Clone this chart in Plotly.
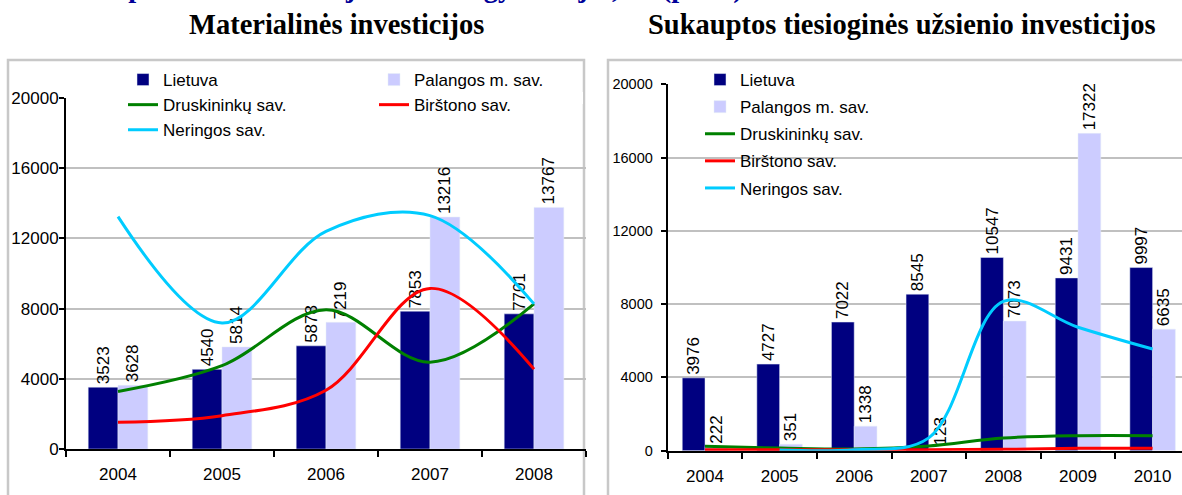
import plotly.graph_objects as go

W, H = 1182, 495

# ---------------- data ----------------
years_left = ["2004", "2005", "2006", "2007", "2008"]
lietuva_left = [3523, 4540, 5878, 7853, 7701]
palanga_left = [3628, 5814, 7219, 13216, 13767]
druskininkai_left = [3280, 4750, 7930, 4950, 8270]
birstonas_left = [1520, 1900, 3350, 9150, 4550]
neringa_left = [13240, 7180, 12400, 13300, 8270]

years_right = ["2004", "2005", "2006", "2007", "2008", "2009", "2010"]
lietuva_right = [3976, 4727, 7022, 8545, 10547, 9431, 9997]
palanga_right = [222, 351, 1338, 123, 7073, 17322, 6635]
druskininkai_right = [237, 146, 91, 256, 694, 822, 822]
birstonas_right = [55, 55, 50, 55, 73, 128, 128]
neringa_right = [None, 37, 55, 700, 8150, 6740, 5550]

y_ticks = [0, 4000, 8000, 12000, 16000, 20000]
y_tick_labels = ["0", "4000", "8000", "12000", "16000", "20000"]

names = ["Lietuva", "Palangos m. sav.", "Druskininkų sav.", "Birštono sav.", "Neringos sav."]
title_left = "Materialinės investicijos"
title_right = "Sukauptos tiesioginės užsienio investicijos"
header = "Kompleksinės investicijos vienam gyventojui, Lt (proc.)"

# ---------------- style ----------------
NAVY, LAV, GREEN, RED, CYAN = "#000080", "#CCCCFF", "#008000", "#FF0000", "#00CCFF"
SANS = "Liberation Sans, Arial, sans-serif"
SERIF = "Liberation Serif, Times New Roman, serif"
FS = 17

fig = go.Figure()


def add_panel(years, lt, pal, dru, bir, ner, xa, ya, bw, legs, grp):
    common_txt = dict(textposition="outside", textangle=-90, cliponaxis=False,
                      constraintext="none",
                      textfont=dict(family=SANS, size=FS, color="black"))
    fig.add_trace(go.Bar(x=years, y=lt, name=names[0], marker_color=NAVY, width=bw, offset=-bw,
                         text=[str(v) for v in lt], xaxis=xa, yaxis=ya, legend=legs[0],
                         legendgroup=grp + "0", **common_txt))
    fig.add_trace(go.Bar(x=years, y=pal, name=names[1], marker_color=LAV, width=bw, offset=0,
                         text=[str(v) for v in pal], xaxis=xa, yaxis=ya, legend=legs[1],
                         legendgroup=grp + "1", **common_txt))
    for i, (vals, nm, col) in enumerate([(dru, names[2], GREEN), (bir, names[3], RED),
                                         (ner, names[4], CYAN)]):
        fig.add_trace(go.Scatter(x=years, y=vals, name=nm, mode="lines",
                                 line=dict(color=col, width=3, shape="spline", smoothing=1.0),
                                 connectgaps=False, xaxis=xa, yaxis=ya, legend=legs[2 + i],
                                 legendgroup=grp + str(2 + i)))


add_panel(years_left, lietuva_left, palanga_left, druskininkai_left, birstonas_left, neringa_left,
          "x", "y", 0.2865, ["legend", "legend2", "legend", "legend2", "legend"], "L")
add_panel(years_right, lietuva_right, palanga_right, druskininkai_right, birstonas_right, neringa_right,
          "x2", "y2", 0.305, ["legend3"] * 5, "R")

xcommon = dict(type="category", showline=True, linecolor="black", linewidth=2,
               ticks="outside", ticklen=6, tickwidth=1.5, tickcolor="black",
               tickson="boundaries", showgrid=False, zeroline=False, ticklabelstandoff=9,
               automargin=False,
               tickfont=dict(family=SANS, size=FS, color="black"), fixedrange=True)
ycommon = dict(range=[0, 20000], tickvals=y_ticks, ticktext=y_tick_labels,
               showline=True, linecolor="black", linewidth=2,
               ticks="outside", ticklen=5, tickwidth=1.5, tickcolor="black",
               showgrid=True, gridcolor="#c0c0c0", gridwidth=1.5, zeroline=False,
               automargin=False, fixedrange=True)

right_end = 6.5 - (667.7 + 7 * 74.6 - W) / 74.6

lg_font = dict(family=SANS, size=FS, color="black")
legend_common = dict(bgcolor="rgba(0,0,0,0)", borderwidth=0, font=lg_font, xanchor="left",
                     yanchor="top", orientation="v")

fig.update_layout(
    width=W, height=H,
    margin=dict(l=0, r=0, t=0, b=0, autoexpand=False),
    paper_bgcolor="white", plot_bgcolor="white",
    barmode="overlay",
    xaxis=dict(domain=[66 / W, 586 / W], range=[-0.5, 4.5], anchor="y", **xcommon),
    yaxis=dict(domain=[(H - 449) / H, (H - 98) / H], anchor="x", ticklabelstandoff=-3,
               tickfont=dict(family=SANS, size=FS, color="black"), **ycommon),
    xaxis2=dict(domain=[667.7 / W, 1.0], range=[-0.5, right_end], anchor="y2", **xcommon),
    yaxis2=dict(domain=[(H - 450.7) / H, (H - 84.3) / H], anchor="x2", ticklabelstandoff=5,
                tickfont=dict(family=SANS, size=14.5, color="black"), **ycommon),
    legend=dict(x=123 / W, y=(H - 62) / H, traceorder="normal", **legend_common),
    legend2=dict(x=374 / W, y=(H - 62) / H, traceorder="normal", **legend_common),
    legend3=dict(x=700 / W, y=(H - 62) / H, traceorder="grouped", tracegroupgap=2,
                 **legend_common),
    showlegend=True,
)

# panel frames and legend backgrounds (like the Excel legend boxes)
frame = dict(color="#c8c8c8", width=2.5)
fig.add_shape(type="rect", xref="paper", yref="paper", x0=8 / W, x1=584 / W, y0=-0.05,
              y1=(H - 60) / H, line=frame, fillcolor="rgba(0,0,0,0)", layer="below")
fig.add_shape(type="rect", xref="paper", yref="paper", x0=608 / W, x1=1.05, y0=-0.05,
              y1=(H - 60) / H, line=frame, fillcolor="rgba(0,0,0,0)", layer="below")
fig.add_shape(type="rect", xref="paper", yref="paper", x0=77 / W, x1=583 / W, y0=(H - 104) / H,
              y1=(H - 92) / H, line=dict(width=0), fillcolor="white", layer="between")
fig.add_shape(type="rect", xref="paper", yref="paper", x0=681 / W, x1=880 / W, y0=(H - 205) / H,
              y1=(H - 66) / H, line=dict(width=0), fillcolor="white", layer="between")

fig.add_annotation(text=title_left, xref="paper", yref="paper", x=336 / W, y=(H - 25) / H,
                   xanchor="center", yanchor="middle", showarrow=False,
                   font=dict(family=SERIF, size=28.5, color="black", weight="bold"))
fig.add_annotation(text=title_right, xref="paper", yref="paper", x=902 / W, y=(H - 25) / H,
                   xanchor="center", yanchor="middle", showarrow=False,
                   font=dict(family=SERIF, size=28.5, color="black", weight="bold"))
fig.add_annotation(text=header, xref="paper", yref="paper", x=66 / W, y=(H - 6.5) / H,
                   xanchor="left", yanchor="bottom", showarrow=False,
                   font=dict(family=SERIF, size=28.5, color="#000099", weight="bold"))

fig.write_html(
    "out.html",
    config={"displayModeBar": False},
    post_script="document.body.style.margin='0px';document.body.style.overflow='hidden';",
)
